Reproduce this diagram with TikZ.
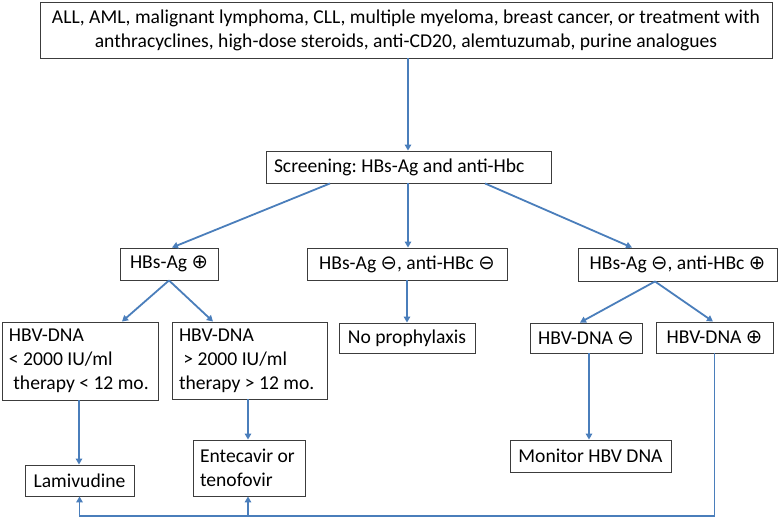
\documentclass[tikz,border=0pt]{standalone}
\usepackage{fontspec}
\setmainfont{Carlito}
\newfontfamily\symf{DejaVu Sans}
\usetikzlibrary{arrows.meta}
\definecolor{arrowblue}{RGB}{74,126,187}
\definecolor{boxline}{RGB}{60,60,60}
\newcommand\fs{\fontsize{19.6}{24}\selectfont\frenchspacing}
\newcommand\myplus{{\symf ⊕}}
\newcommand\myminus{{\symf ⊖}}
\begin{document}
\begin{tikzpicture}[x=1pt,y=-1pt,
  box/.style={draw=boxline, line width=0.9pt, inner sep=0pt, font=\fs, fill=white},
  lbox/.style={box, align=flush left},
  arr/.style={draw=arrowblue, line width=1.8pt, -{Triangle[length=6pt,width=6.5pt]}},
  ln/.style={draw=arrowblue, line width=1.8pt}]
\useasboundingbox (0,0) rectangle (782,517);

\node[box, minimum width=732pt, minimum height=56pt, align=center] (top) at (406,30)
  {ALL, AML, malignant lymphoma, CLL, multiple myeloma, breast cancer, or treatment with\\
   anthracyclines, high-dose steroids, anti-CD20, alemtuzumab, purine analogues};
\node[lbox, minimum width=285pt, minimum height=32pt, text width=269pt] (screen) at (408.5,167)
  {Screening: HBs-Ag and anti-Hbc};

\node[box, minimum width=98pt, minimum height=32pt] (hbsp) at (169,264) {HBs-Ag \myplus};
\node[box, minimum width=200pt, minimum height=32pt] (mid) at (407,264) {HBs-Ag \myminus, anti-HBc \myminus};
\node[box, minimum width=199pt, minimum height=33pt] (rgt) at (677.5,264.5) {HBs-Ag \myminus, anti-HBc \myplus};

\node[lbox, minimum width=156pt, minimum height=78pt, text width=142pt] (hbvL) at (80,361)
  {HBV-DNA\\ < 2000 IU/ml\\ \hspace*{4.4pt}therapy < 12 mo.};
\node[lbox, minimum width=155pt, minimum height=77pt, text width=141pt] (hbvM) at (249.5,360.5)
  {HBV-DNA\\ \hspace*{4.4pt}> 2000 IU/ml\\ therapy > 12 mo.};
\node[box, minimum width=136pt, minimum height=30pt] (noproph) at (407,338) {No prophylaxis};
\node[box, minimum width=112pt, minimum height=30pt] (dnaNeg) at (586,338) {HBV-DNA \myminus};
\node[box, minimum width=117pt, minimum height=31pt] (dnaPos) at (714.5,337.5) {HBV-DNA \myplus};

\node[box, minimum width=161pt, minimum height=32pt] (monitor) at (590.5,456) {Monitor HBV DNA};
\node[box, minimum width=109pt, minimum height=31pt] (lami) at (79.5,480.5) {Lamivudine};
\node[lbox, minimum width=112pt, minimum height=56pt, text width=98pt] (ente) at (249,468)
  {Entecavir or\\ tenofovir};

% connectors
\draw[arr] ([xshift=2pt]top.south) -- ([xshift=2pt]top.south |- screen.north);
\draw[arr] ([xshift=-78.5pt]screen.south) -- ([xshift=3pt]hbsp.north);
\draw[arr] ([xshift=-0.5pt]screen.south) -- ([xshift=-0.5pt]screen.south |- mid.north);
\draw[arr] ([xshift=76.5pt]screen.south) -- ([xshift=-45.5pt]rgt.north);

\draw[arr] (hbsp.south) -- ([xshift=42pt]hbvL.north);
\draw[arr] (hbsp.south) -- ([xshift=-36.5pt]hbvM.north);
\draw[arr] (mid.south) -- (noproph.north);
\draw[arr] ([xshift=-22.5pt]rgt.south) -- ([xshift=-6pt]dnaNeg.north);
\draw[arr] ([xshift=-22.5pt]rgt.south) -- ([xshift=-1.5pt]dnaPos.north);

\draw[arr] ([xshift=3pt]dnaNeg.south) -- ([xshift=3pt]dnaNeg.south |- monitor.north);
\draw[arr] ([xshift=-1pt]hbvL.south) -- ([xshift=-1pt]hbvL.south |- lami.north);
\draw[arr] ([xshift=-1.5pt]hbvM.south) -- ([xshift=-1.5pt]hbvM.south |- ente.north);

\coordinate (bot) at (714,516);
\draw[arr] (dnaPos.south) |- (lami.south |- bot) -- (lami.south);
\draw[arr] ([xshift=-1pt]ente.south |- bot) -- ([xshift=-1pt]ente.south);
\end{tikzpicture}
\end{document}
